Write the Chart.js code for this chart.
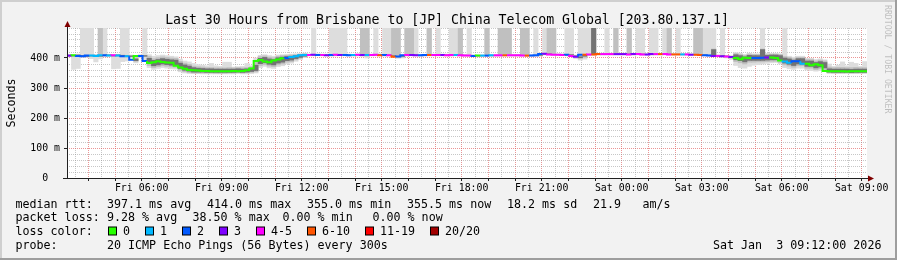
<!DOCTYPE html>
<html>
<head>
<meta charset="utf-8">
<script src="https://cdn.jsdelivr.net/npm/chart.js@4"></script>
<style>
  html, body { margin: 0; padding: 0; background: #f2f2f2; }
  canvas { display: block; }
</style>
</head>
<body>
<canvas id="smokeChart" width="897" height="260"></canvas>
<script>
// one value per 10 minutes, Fri 03:12 -> Sat 09:12 (one row = 3 hours)
const stepMinutes = 10;

const rttMedian = [
  408,408,409,407,406,408,408,407,409,409,408,409,408,406,406,394,407,407,
  390,383,386,389,387,385,384,374,368,364,360,359,358,357,357,356,356,356,
  356,356,357,356,357,359,365,390,393,388,386,392,395,399,400,403,406,409,
  410,410,411,410,410,409,410,411,410,410,409,410,411,410,410,410,411,409,
  410,409,404,405,409,410,410,409,409,410,410,410,410,410,409,410,410,409,
  408,408,407,408,408,408,409,409,409,409,409,409,409,408,408,408,409,413,
  414,412,411,411,410,411,407,404,411,411,412,412,413,413,413,413,413,413,
  413,412,413,413,412,412,413,413,413,413,412,412,412,412,412,411,411,410,
  409,408,407,407,406,405,403,400,396,401,400,400,400,401,402,402,400,392,
  388,384,389,389,381,381,376,379,376,357,356,356,356,356,355,356,356,356
];

// lost pings out of 20
const lossCount = [
  3,0,2,2,2,1,1,1,2,1,4,1,2,1,2,0,2,2,
  0,0,0,0,0,0,0,0,0,0,0,0,0,0,0,0,0,0,
  0,0,0,0,0,0,0,0,0,0,0,0,0,2,1,1,1,1,
  4,3,2,4,3,2,4,3,2,2,1,4,3,1,4,4,6,2,
  4,7,2,2,4,3,3,2,2,6,4,4,3,4,4,1,4,4,
  4,2,0,1,2,1,4,4,6,4,4,4,4,6,2,2,2,3,
  4,4,4,4,2,4,3,2,6,4,8,6,4,4,4,3,3,3,
  4,3,4,4,3,3,4,6,4,4,6,6,1,4,3,6,6,2,
  2,3,4,3,4,3,0,0,0,0,2,2,2,3,0,0,0,1,
  1,2,2,1,0,0,0,0,0,0,0,0,0,0,0,0,0,0
];

const rttMin = [
  404,362,365,403,402,398,387,397,404,404,364,365,388,390,401,384,402,392,
  368,362,365,368,366,364,363,354,350,348,348,348,347,347,347,347,347,347,
  347,347,348,347,347,348,350,368,372,367,365,371,374,380,383,389,395,401,
  407,407,408,407,407,406,407,408,407,407,406,407,405,400,407,407,408,406,
  407,406,399,400,406,407,407,406,406,407,407,407,407,407,406,407,407,406,
  405,405,404,405,405,405,406,406,406,406,406,406,406,405,405,405,406,410,
  410,409,408,408,407,408,398,393,396,408,409,409,410,410,410,410,410,410,
  410,409,410,410,409,409,410,410,410,410,409,409,409,409,409,408,408,407,
  406,405,404,403,400,395,375,368,366,372,376,378,380,382,384,385,380,368,
  364,362,366,366,360,358,356,358,356,348,348,348,348,349,348,348,349,349
];

const rtt20 = [
  406,405,406,405,404,406,405,405,407,407,405,405,404,403,404,389,405,404,
  375,368,371,374,372,370,369,359,354,351,350,350,350,350,350,349,349,349,
  350,350,351,350,351,352,354,375,378,373,371,377,380,386,388,394,399,404,
  409,409,410,409,409,408,409,410,409,409,408,409,410,406,409,409,410,408,
  409,408,402,403,408,409,409,408,408,409,409,409,409,409,408,409,409,408,
  407,407,406,407,407,407,408,408,408,408,408,408,408,407,407,407,408,412,
  412,411,410,410,409,410,402,398,402,410,411,411,412,412,412,412,412,412,
  412,411,412,412,411,411,412,412,412,412,411,411,411,411,411,410,410,409,
  408,407,405,405,403,400,388,384,380,386,386,387,387,388,389,389,385,377,
  373,369,374,374,366,366,361,364,361,351,350,350,350,350,350,350,350,350
];

const rtt40 = [
  407,407,408,406,405,407,407,406,408,408,407,408,407,405,405,391,406,406,
  381,374,377,380,378,376,375,365,359,356,353,353,353,352,352,352,352,352,
  352,352,353,352,353,355,358,381,384,379,377,383,386,391,393,398,402,406,
  410,410,411,410,410,409,410,411,410,410,409,410,411,410,410,410,411,409,
  410,409,404,405,409,410,410,409,409,410,410,410,410,410,409,410,410,409,
  408,408,407,408,408,408,409,409,409,409,409,409,409,408,408,408,409,413,
  414,412,411,411,410,411,405,401,406,411,412,412,413,413,413,413,413,413,
  413,412,413,413,412,412,413,413,413,413,412,412,412,412,412,411,411,410,
  409,408,406,406,405,403,394,391,387,392,392,392,392,393,394,394,391,383,
  379,375,380,380,372,372,367,370,367,353,352,352,352,352,351,352,352,352
];

const rtt60 = [
  409,409,410,408,407,409,409,408,410,410,409,410,409,407,407,397,408,408,
  399,392,395,398,396,394,393,383,377,373,368,366,365,364,364,363,363,363,
  363,363,364,363,364,366,376,399,402,397,395,401,403,405,406,408,410,412,
  410,410,411,410,410,409,410,411,410,410,409,410,411,410,410,410,411,409,
  410,409,404,405,409,410,410,409,409,410,410,410,410,410,409,410,410,409,
  408,408,407,408,408,408,409,409,409,409,409,409,409,408,408,408,409,414,
  414,412,411,411,410,411,407,404,411,411,520,412,413,413,413,413,413,413,
  413,412,413,413,412,412,413,413,413,413,412,412,412,412,412,411,411,410,
  409,428,407,407,406,405,411,408,404,409,408,408,428,409,410,410,408,400,
  397,393,398,398,390,390,385,388,385,364,363,363,363,363,362,363,363,363
];

const rtt80 = [
  410,410,411,409,408,410,410,520,411,411,410,411,410,408,408,401,409,409,
  405,398,401,404,402,400,399,389,383,379,373,371,370,368,368,367,367,367,
  368,367,368,367,368,370,388,405,407,403,401,406,408,409,410,411,412,414,
  411,411,412,411,411,410,411,412,411,411,410,411,520,520,411,411,412,410,
  411,520,520,406,520,520,411,410,410,520,411,411,411,411,410,411,520,410,
  409,409,408,409,520,409,410,520,520,520,410,410,520,520,409,409,410,415,
  520,520,412,412,411,412,408,406,412,412,520,413,414,414,414,520,414,414,
  520,413,414,414,413,413,414,414,414,520,413,413,413,413,413,520,520,411,
  410,430,408,408,407,406,415,412,409,413,412,412,430,413,413,413,412,405,
  402,398,402,402,395,395,390,393,390,370,368,369,369,368,368,369,368,368
];

const rttMax = [
  412,412,413,520,520,520,412,520,520,412,412,412,520,520,410,408,411,520,
  411,406,408,410,408,406,404,396,390,387,382,378,376,374,382,374,372,386,
  386,370,371,372,382,374,400,409,411,408,406,410,411,412,413,414,415,416,
  413,520,414,413,413,520,520,520,520,413,412,413,520,520,413,520,414,520,
  520,520,520,408,520,520,520,412,412,520,413,520,413,413,520,520,520,412,
  520,411,410,411,520,411,412,520,520,520,412,412,520,520,411,520,412,520,
  520,520,414,414,520,520,410,520,520,520,520,415,416,520,416,520,416,416,
  520,415,520,520,414,520,520,415,520,520,414,520,414,414,414,520,520,520,
  520,520,410,520,409,408,418,416,412,416,414,414,520,415,415,415,414,520,
  406,403,406,406,399,399,395,397,394,380,372,376,387,374,386,382,372,388
];

const lossBins = ['0', '1', '2', '3', '4-5', '6-10', '11-19', '20/20'];
const lossColors = ['#26ff00', '#00b8ff', '#0059ff', '#7e00ff', '#ff00ff', '#ff5500', '#ff0000', '#a10000'];

// minutes after Fri 03:12
const tickMinutes = [168, 348, 528, 708, 888, 1068, 1248, 1428, 1608, 1788];
const tickLabels = ['Fri 06:00', 'Fri 09:00', 'Fri 12:00', 'Fri 15:00', 'Fri 18:00',
                    'Fri 21:00', 'Sat 00:00', 'Sat 03:00', 'Sat 06:00', 'Sat 09:00'];
const yTickValues = [0, 100, 200, 300, 400];
const yTickLabels = ['0', '100 m', '200 m', '300 m', '400 m'];

const titleText = 'Last 30 Hours from Brisbane to [JP] China Telecom Global [203.80.137.1]';
const rttStats = ['397.1 ms avg', '414.0 ms max', '355.0 ms min', '355.5 ms now', '18.2 ms sd', '21.9', 'am/s'];
const lossStats = ['9.28 % avg', '38.50 % max', '0.00 % min', '0.00 % now'];
const probeText = '20 ICMP Echo Pings (56 Bytes) every 300s';
const stampText = 'Sat Jan  3 09:12:00 2026';

function lossBin(n) {
  if (n <= 3) return n;
  if (n <= 5) return 4;
  if (n <= 10) return 5;
  if (n <= 19) return 6;
  return 7;
}

const centers = rttMedian.map((m, i) => i * stepMinutes + stepMinutes / 2);
function band(lo, hi) {
  return centers.map((x, i) => ({ x: x, y: [lo[i], hi[i]] }));
}
const medianPoints = rttMedian.map((m, i) => ({ x: i * stepMinutes, y: m }));
medianPoints.push({ x: rttMedian.length * stepMinutes, y: rttMedian[rttMedian.length - 1] });

const mono = "'DejaVu Sans Mono', monospace";
Chart.defaults.font.family = mono;
Chart.defaults.color = '#000';

const rrdDecor = {
  id: 'rrdDecor',
  beforeDraw(chart) {
    const ctx = chart.ctx, a = chart.chartArea, w = chart.width, h = chart.height;
    ctx.save();
    ctx.fillStyle = '#f2f2f2';
    ctx.fillRect(0, 0, w, h);
    ctx.fillStyle = '#cfcfcf';
    ctx.fillRect(0, 0, w, 2);
    ctx.fillRect(0, 0, 2, h);
    ctx.fillStyle = '#9e9e9e';
    ctx.fillRect(0, h - 2, w, 2);
    ctx.fillRect(w - 2, 0, 2, h);
    ctx.fillStyle = '#ffffff';
    ctx.fillRect(a.left, a.top, a.right - a.left, a.bottom - a.top);
    ctx.restore();
  },
  afterDraw(chart) {
    const ctx = chart.ctx, a = chart.chartArea;
    ctx.save();
    // axes
    ctx.strokeStyle = '#202020';
    ctx.lineWidth = 1;
    ctx.beginPath();
    ctx.moveTo(a.left + 0.5, a.bottom + 1);
    ctx.lineTo(a.left + 0.5, a.top - 3);
    ctx.moveTo(a.left - 4, a.bottom + 0.5);
    ctx.lineTo(a.right + 2, a.bottom + 0.5);
    ctx.stroke();
    ctx.fillStyle = '#800000';
    ctx.beginPath();
    ctx.moveTo(a.left + 0.5, a.top - 7);
    ctx.lineTo(a.left - 2.5, a.top - 1);
    ctx.lineTo(a.left + 3.5, a.top - 1);
    ctx.closePath();
    ctx.fill();
    ctx.beginPath();
    ctx.moveTo(a.right + 7, a.bottom + 0.5);
    ctx.lineTo(a.right + 1, a.bottom - 2.5);
    ctx.lineTo(a.right + 1, a.bottom + 3.5);
    ctx.closePath();
    ctx.fill();

    // title
    ctx.fillStyle = '#000';
    ctx.font = '13.2px ' + mono;
    ctx.textAlign = 'center';
    ctx.textBaseline = 'alphabetic';
    ctx.fillText(titleText, 447, 24);

    // vertical axis title
    ctx.font = '11.66px ' + mono;
    ctx.save();
    ctx.translate(15.3, 103);
    ctx.rotate(-Math.PI / 2);
    ctx.fillText('Seconds', 0, 0);
    ctx.restore();

    // watermark
    ctx.save();
    ctx.fillStyle = 'rgba(0,0,0,0.22)';
    ctx.font = '8.2px ' + mono;
    ctx.textAlign = 'left';
    ctx.translate(885, 5);
    ctx.rotate(Math.PI / 2);
    ctx.fillText('RRDTOOL / TOBI OETIKER', 0, 0);
    ctx.restore();

    // legend lines
    ctx.textAlign = 'left';
    ctx.font = '11.66px ' + mono;
    const rttX = [107, 207, 307, 407, 507, 593, 642.5];
    ctx.fillText('median rtt:', 15.5, 207.7);
    rttStats.forEach((s, i) => ctx.fillText(s, rttX[i], 207.7));
    const lossX = [107, 192.5, 282.5, 372.5];
    ctx.fillText('packet loss:', 15.5, 221.4);
    lossStats.forEach((s, i) => ctx.fillText(s, lossX[i], 221.4));
    ctx.fillText('loss color:', 15.5, 235.1);
    const boxX = [108, 145, 182, 219, 256, 307, 365, 430];
    lossBins.forEach((b, i) => {
      ctx.fillStyle = '#000';
      ctx.fillRect(boxX[i], 226.5, 9, 9);
      ctx.fillStyle = lossColors[i];
      ctx.fillRect(boxX[i] + 1, 227.5, 7, 7);
      ctx.fillStyle = '#000';
      ctx.fillText(b, boxX[i] + 15, 235.1);
    });
    ctx.fillText('probe:', 15.5, 248.8);
    ctx.fillText(probeText, 107, 248.8);
    ctx.fillText(stampText, 713, 248.8);
    ctx.restore();
  }
};

const dotted = [1, 1];
const barBase = {
  type: 'bar',
  grouped: false,
  barPercentage: 1,
  categoryPercentage: 1,
  borderWidth: 0,
  clip: 0
};

new Chart(document.getElementById('smokeChart'), {
  type: 'bar',
  data: {
    datasets: [
      Object.assign({}, barBase, { data: band(rttMin, rttMax), backgroundColor: '#dddddd', order: 3 }),
      Object.assign({}, barBase, { data: band(rtt20, rtt80), backgroundColor: '#c0c0c0', order: 2 }),
      Object.assign({}, barBase, { data: band(rtt40, rtt60), backgroundColor: '#737373', order: 1 }),
      {
        type: 'line',
        data: medianPoints,
        stepped: 'after',
        borderWidth: 2,
        borderColor: lossColors[0],
        pointRadius: 0,
        tension: 0,
        order: 0,
        clip: 0,
        segment: {
          borderColor: c => lossColors[lossBin(lossCount[Math.min(c.p0DataIndex, lossCount.length - 1)])]
        }
      }
    ]
  },
  options: {
    responsive: false,
    maintainAspectRatio: false,
    animation: false,
    events: [],
    layout: { padding: { left: 0, right: 30, top: 28, bottom: 62 } },
    plugins: { legend: { display: false }, tooltip: { enabled: false } },
    scales: {
      x: {
        type: 'linear',
        min: 0,
        max: rttMedian.length * stepMinutes,
        offset: false,
        bounds: 'data',
        z: 1,
        afterFit: s => { s.height = 20; },
        afterBuildTicks: s => {
          const t = [];
          for (let v = 18; v < s.max; v += 30) t.push({ value: v });
          s.ticks = t;
        },
        ticks: {
          autoSkip: false,
          maxRotation: 0,
          padding: 1,
          font: { size: 9.9 },
          callback: v => {
            const k = tickMinutes.indexOf(v);
            return k >= 0 ? tickLabels[k] : '';
          }
        },
        grid: {
          offset: false,
          lineWidth: 1,
          tickLength: 3,
          color: c => ((c.tick.value + 12) % 60 === 0 ? 'rgba(222,79,79,0.6)' : 'rgba(143,143,143,0.5)'),
          tickColor: c => ((c.tick.value + 12) % 60 === 0 ? '#202020' : 'rgba(0,0,0,0)')
        },
        border: { display: false, dash: dotted }
      },
      y: {
        type: 'linear',
        min: 0,
        max: 500,
        bounds: 'data',
        z: 1,
        afterFit: s => { s.width = 67; },
        afterBuildTicks: s => {
          const t = [];
          for (let v = 0; v <= 500; v += 20) t.push({ value: v });
          s.ticks = t;
        },
        ticks: {
          autoSkip: false,
          padding: 4,
          crossAlign: 'center',
          font: { size: 9.9 },
          callback: v => {
            const k = yTickValues.indexOf(v);
            return k >= 0 ? yTickLabels[k] : '';
          }
        },
        grid: {
          lineWidth: 1,
          tickLength: 3,
          color: c => {
            const v = c.tick.value;
            if (v === 0) return 'rgba(0,0,0,0)';
            return (v % 100 === 0 && v < 500) ? 'rgba(222,79,79,0.6)' : 'rgba(143,143,143,0.5)';
          },
          tickColor: c => (yTickValues.indexOf(c.tick.value) >= 0 ? '#202020' : 'rgba(0,0,0,0)')
        },
        border: { display: false, dash: dotted }
      }
    }
  },
  plugins: [rrdDecor]
});
</script>
</body>
</html>
